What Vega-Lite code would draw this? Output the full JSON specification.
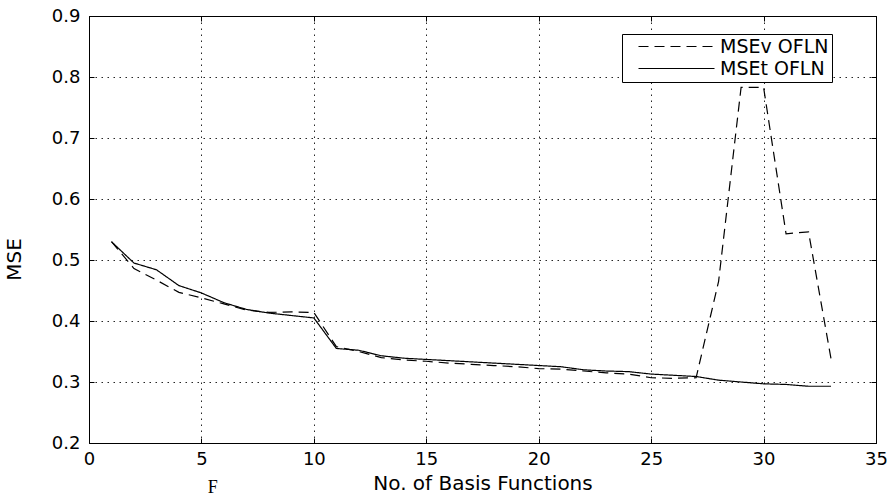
{
  "$schema": "https://vega.github.io/schema/vega-lite/v6.json",
  "width": 787,
  "height": 427,
  "autosize": {"type": "none"},
  "padding": {"left": 89, "top": 16, "right": 11, "bottom": 55},
  "background": "white",
  "config": {
    "view": {"stroke": "black", "strokeWidth": 1},
    "font": "DejaVu Sans",
    "axis": {
      "labelColor": "black",
      "labelFont": "DejaVu Sans",
      "labelFontSize": 18,
      "titleColor": "black",
      "titleFont": "DejaVu Sans",
      "titleFontSize": 20,
      "titleFontWeight": "normal",
      "tickColor": "black",
      "tickWidth": 1,
      "labelFlush": false,
      "labelOverlap": false
    }
  },
  "datasets": {
    "mse": [
      {"n": 1, "series": "MSEt OFLN", "mse": 0.530},
      {"n": 2, "series": "MSEt OFLN", "mse": 0.495},
      {"n": 3, "series": "MSEt OFLN", "mse": 0.484},
      {"n": 4, "series": "MSEt OFLN", "mse": 0.458},
      {"n": 5, "series": "MSEt OFLN", "mse": 0.446},
      {"n": 6, "series": "MSEt OFLN", "mse": 0.430},
      {"n": 7, "series": "MSEt OFLN", "mse": 0.419},
      {"n": 8, "series": "MSEt OFLN", "mse": 0.413},
      {"n": 9, "series": "MSEt OFLN", "mse": 0.409},
      {"n": 10, "series": "MSEt OFLN", "mse": 0.405},
      {"n": 11, "series": "MSEt OFLN", "mse": 0.355},
      {"n": 12, "series": "MSEt OFLN", "mse": 0.352},
      {"n": 13, "series": "MSEt OFLN", "mse": 0.343},
      {"n": 14, "series": "MSEt OFLN", "mse": 0.339},
      {"n": 15, "series": "MSEt OFLN", "mse": 0.337},
      {"n": 16, "series": "MSEt OFLN", "mse": 0.335},
      {"n": 17, "series": "MSEt OFLN", "mse": 0.333},
      {"n": 18, "series": "MSEt OFLN", "mse": 0.331},
      {"n": 19, "series": "MSEt OFLN", "mse": 0.329},
      {"n": 20, "series": "MSEt OFLN", "mse": 0.327},
      {"n": 21, "series": "MSEt OFLN", "mse": 0.325},
      {"n": 22, "series": "MSEt OFLN", "mse": 0.320},
      {"n": 23, "series": "MSEt OFLN", "mse": 0.318},
      {"n": 24, "series": "MSEt OFLN", "mse": 0.317},
      {"n": 25, "series": "MSEt OFLN", "mse": 0.313},
      {"n": 26, "series": "MSEt OFLN", "mse": 0.311},
      {"n": 27, "series": "MSEt OFLN", "mse": 0.309},
      {"n": 28, "series": "MSEt OFLN", "mse": 0.303},
      {"n": 29, "series": "MSEt OFLN", "mse": 0.300},
      {"n": 30, "series": "MSEt OFLN", "mse": 0.297},
      {"n": 31, "series": "MSEt OFLN", "mse": 0.296},
      {"n": 32, "series": "MSEt OFLN", "mse": 0.293},
      {"n": 33, "series": "MSEt OFLN", "mse": 0.293},
      {"n": 1, "series": "MSEv OFLN", "mse": 0.530},
      {"n": 2, "series": "MSEv OFLN", "mse": 0.486},
      {"n": 3, "series": "MSEv OFLN", "mse": 0.467},
      {"n": 4, "series": "MSEv OFLN", "mse": 0.447},
      {"n": 5, "series": "MSEv OFLN", "mse": 0.438},
      {"n": 6, "series": "MSEv OFLN", "mse": 0.428},
      {"n": 7, "series": "MSEv OFLN", "mse": 0.418},
      {"n": 8, "series": "MSEv OFLN", "mse": 0.414},
      {"n": 9, "series": "MSEv OFLN", "mse": 0.415},
      {"n": 10, "series": "MSEv OFLN", "mse": 0.414},
      {"n": 11, "series": "MSEv OFLN", "mse": 0.358},
      {"n": 12, "series": "MSEv OFLN", "mse": 0.350},
      {"n": 13, "series": "MSEv OFLN", "mse": 0.340},
      {"n": 14, "series": "MSEv OFLN", "mse": 0.336},
      {"n": 15, "series": "MSEv OFLN", "mse": 0.334},
      {"n": 16, "series": "MSEv OFLN", "mse": 0.331},
      {"n": 17, "series": "MSEv OFLN", "mse": 0.329},
      {"n": 18, "series": "MSEv OFLN", "mse": 0.327},
      {"n": 19, "series": "MSEv OFLN", "mse": 0.325},
      {"n": 20, "series": "MSEv OFLN", "mse": 0.322},
      {"n": 21, "series": "MSEv OFLN", "mse": 0.321},
      {"n": 22, "series": "MSEv OFLN", "mse": 0.318},
      {"n": 23, "series": "MSEv OFLN", "mse": 0.315},
      {"n": 24, "series": "MSEv OFLN", "mse": 0.313},
      {"n": 25, "series": "MSEv OFLN", "mse": 0.307},
      {"n": 26, "series": "MSEv OFLN", "mse": 0.306},
      {"n": 27, "series": "MSEv OFLN", "mse": 0.307},
      {"n": 28, "series": "MSEv OFLN", "mse": 0.465},
      {"n": 29, "series": "MSEv OFLN", "mse": 0.783},
      {"n": 30, "series": "MSEv OFLN", "mse": 0.783},
      {"n": 31, "series": "MSEv OFLN", "mse": 0.543},
      {"n": 32, "series": "MSEv OFLN", "mse": 0.546},
      {"n": 33, "series": "MSEv OFLN", "mse": 0.338}
    ],
    "note": [
      {"x": 5.5, "y": 0.127, "label": "F"}
    ]
  },
  "layer": [
    {
      "data": {"name": "mse"},
      "mark": {"type": "line", "color": "black", "strokeWidth": 1.2},
      "encoding": {
        "x": {
          "field": "n",
          "type": "quantitative",
          "scale": {"domain": [0, 35], "nice": false, "zero": false},
          "axis": {
            "orient": "bottom",
            "values": [0, 5, 10, 15, 20, 25, 30, 35],
            "format": "d",
            "grid": true,
            "gridColor": "black",
            "gridDash": [1.5, 4.5],
            "gridOpacity": 0.85,
            "gridWidth": 1,
            "domain": false,
            "tickSize": -5,
            "labelPadding": 12,
            "labelBaseline": "top",
            "title": "No. of Basis Functions",
            "titleBaseline": "middle",
            "titleY": 40
          }
        },
        "y": {
          "field": "mse",
          "type": "quantitative",
          "scale": {"domain": [0.2, 0.9], "nice": false, "zero": false},
          "axis": {
            "orient": "left",
            "values": [0.2, 0.3, 0.4, 0.5, 0.6, 0.7, 0.8, 0.9],
            "format": ".1f",
            "grid": true,
            "gridColor": "black",
            "gridDash": [1.5, 4.5],
            "gridOpacity": 0.85,
            "gridWidth": 1,
            "domain": false,
            "tickSize": -5,
            "labelPadding": 14,
            "title": "MSE",
            "titleAngle": -90,
            "titleAlign": "center",
            "titleBaseline": "middle",
            "titleX": -75,
            "titleY": 243
          }
        },
        "strokeDash": {
          "field": "series",
          "type": "nominal",
          "scale": {
            "domain": ["MSEv OFLN", "MSEt OFLN"],
            "range": [[10, 6], [1, 0]]
          },
          "legend": {
            "title": null,
            "orient": "none",
            "legendX": 533,
            "legendY": 18,
            "fillColor": "white",
            "strokeColor": "black",
            "padding": 3,
            "cornerRadius": 0,
            "symbolType": "M0,0H12.67",
            "symbolSize": 144,
            "symbolStrokeWidth": 1.2,
            "symbolStrokeColor": "black",
            "symbolOffset": 4,
            "labelOffset": 72,
            "labelFont": "DejaVu Sans",
            "labelFontSize": 19,
            "labelColor": "black",
            "rowPadding": 2
          }
        }
      }
    },
    {
      "data": {"name": "note"},
      "mark": {"type": "text", "font": "Liberation Serif", "fontSize": 18, "color": "black", "baseline": "middle", "align": "center"},
      "encoding": {
        "x": {
          "field": "x",
          "type": "quantitative",
          "scale": {"domain": [0, 35], "nice": false, "zero": false},
          "axis": {
            "orient": "top",
            "values": [0, 5, 10, 15, 20, 25, 30, 35],
            "labels": false,
            "grid": false,
            "domain": false,
            "tickSize": -5,
            "title": null
          }
        },
        "y": {
          "field": "y",
          "type": "quantitative",
          "scale": {"domain": [0.2, 0.9], "nice": false, "zero": false},
          "axis": {
            "orient": "right",
            "values": [0.2, 0.3, 0.4, 0.5, 0.6, 0.7, 0.8, 0.9],
            "labels": false,
            "grid": false,
            "domain": false,
            "tickSize": -5,
            "title": null
          }
        },
        "text": {"field": "label"}
      }
    }
  ],
  "resolve": {"axis": {"x": "independent", "y": "independent"}}
}
